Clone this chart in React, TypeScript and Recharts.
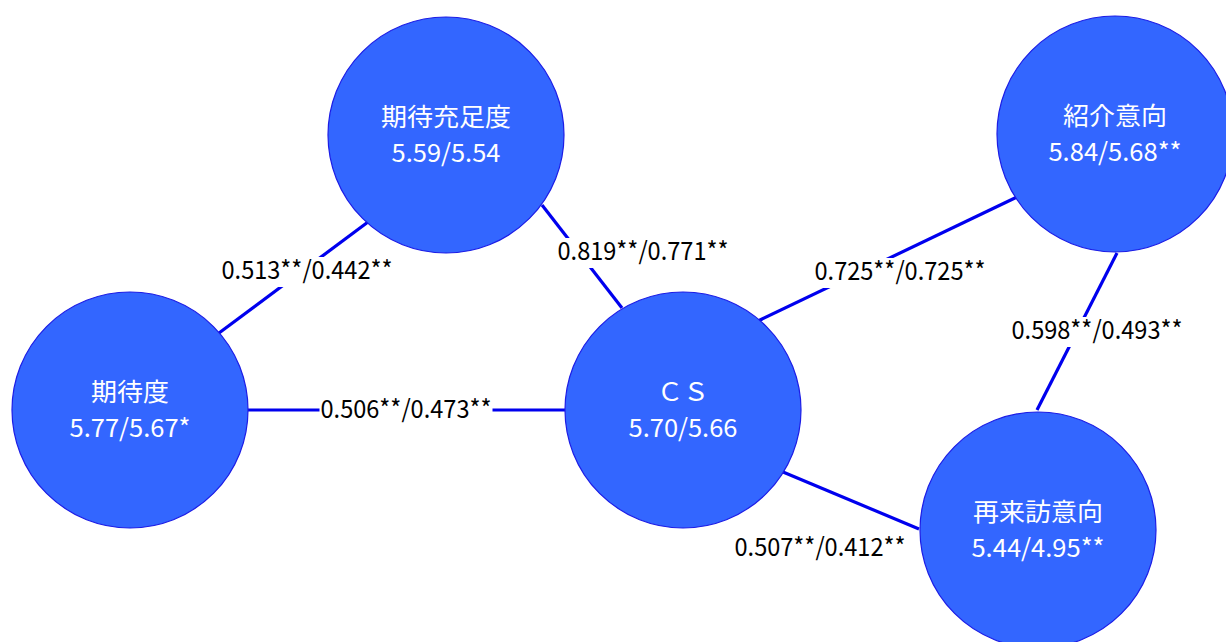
import React from "react";
import { ScatterChart, Scatter, XAxis, YAxis } from "recharts";

// nodes (diagram coordinates, 0..1226 x 0..642, y down)
const nodeNames = ["期待度", "期待充足度", "ＣＳ", "紹介意向", "再来訪意向"];
const nodeScores = ["5.77/5.67*", "5.59/5.54", "5.70/5.66", "5.84/5.68**", "5.44/4.95**"];
const nodeX = [130, 446, 683, 1115, 1038];
const nodeY = [410, 135, 410, 134, 530];

// edges: where each line meets its two circles
const edgeFrom = [
  [219, 333],
  [248, 410],
  [542, 205],
  [758, 321],
  [1117, 253],
  [783, 472],
];
const edgeTo = [
  [368, 222],
  [565, 410],
  [622, 308],
  [1017, 197],
  [1037, 410],
  [919, 529],
];

// coefficient labels
const edgeLabels = [
  "0.513**/0.442**",
  "0.506**/0.473**",
  "0.819**/0.771**",
  "0.725**/0.725**",
  "0.598**/0.493**",
  "0.507**/0.412**",
];
const edgeLabelX = [307, 406, 643, 900, 1097, 820];
const edgeLabelY = [270, 409, 251, 271, 330, 547];

const W = 1226;
const H = 642;
const FONT = "'Noto Sans CJK JP', 'Noto Sans', sans-serif";

const nodeData = nodeNames.map((name, i) => ({
  x: nodeX[i],
  y: nodeY[i],
  name,
  score: nodeScores[i],
}));

const labelData = edgeLabels.map((label, i) => ({
  x: edgeLabelX[i],
  y: edgeLabelY[i],
  label,
}));

const edgeData = edgeFrom.map((p, i) => [
  { x: p[0], y: p[1] },
  { x: edgeTo[i][0], y: edgeTo[i][1] },
]);

const noPoint = () => <g />;

function NodeShape(props: any) {
  const { cx, cy, payload } = props;
  const scoreWidth = payload.score.length * 12.1;
  return (
    <g>
      <circle cx={cx} cy={cy} r={118} fill="#3366FF" stroke="#1c1ce6" strokeWidth={1.2} />
      <text
        x={cx}
        y={cy - 9.5}
        textAnchor="middle"
        fill="#fff"
        fontSize={25}
        fontFamily={FONT}
        textLength={payload.name.length * 26}
        lengthAdjust="spacingAndGlyphs"
      >
        {payload.name}
      </text>
      <text
        x={cx}
        y={cy + 26.5}
        textAnchor="middle"
        fill="#fff"
        fontSize={25}
        fontFamily={FONT}
        textLength={scoreWidth}
        lengthAdjust="spacingAndGlyphs"
      >
        {payload.score}
      </text>
    </g>
  );
}

function LabelShape(props: any) {
  const { cx, cy, payload } = props;
  const w = 173;
  return (
    <g>
      <rect x={cx - w / 2} y={cy - 13} width={w} height={30} fill="#fff" />
      <text
        x={cx}
        y={cy + 9}
        textAnchor="middle"
        fill="#000"
        fontSize={25}
        fontFamily={FONT}
        textLength={w - 2}
        lengthAdjust="spacingAndGlyphs"
      >
        {payload.label}
      </text>
    </g>
  );
}

export default function App() {
  return (
    <div style={{ position: "absolute", left: 0, top: 0, background: "#fff" }}>
      <ScatterChart width={W} height={H} margin={{ top: 0, right: 0, bottom: 0, left: 0 }}>
        <XAxis type="number" dataKey="x" domain={[0, W]} allowDataOverflow hide />
        <YAxis type="number" dataKey="y" domain={[0, H]} allowDataOverflow reversed hide width={0} />
        {edgeData.map((d, i) => (
          <Scatter
            key={`edge-${i}`}
            data={d}
            line={{ stroke: "#0000EE", strokeWidth: 3.2 }}
            shape={noPoint}
            isAnimationActive={false}
          />
        ))}
        <Scatter data={labelData} shape={<LabelShape />} isAnimationActive={false} />
        <Scatter data={nodeData} shape={<NodeShape />} isAnimationActive={false} />
      </ScatterChart>
    </div>
  );
}
